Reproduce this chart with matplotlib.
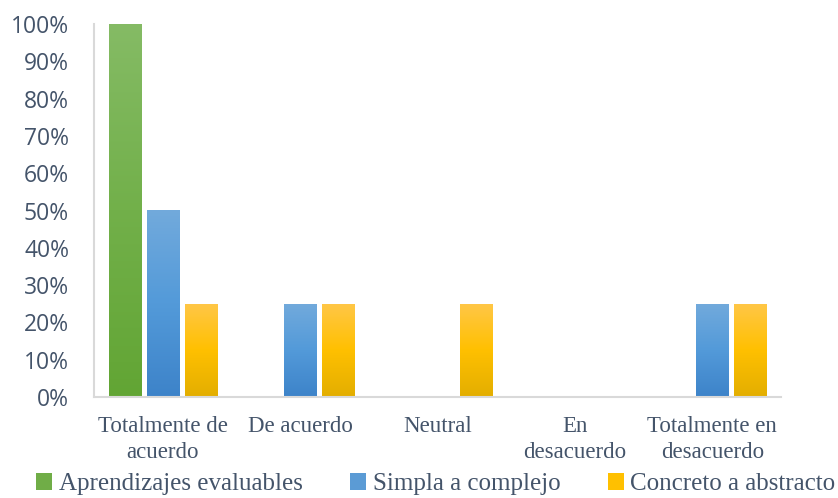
import matplotlib
matplotlib.use("Agg")
import matplotlib.pyplot as plt
import numpy as np
from matplotlib.colors import LinearSegmentedColormap
from matplotlib.patches import Patch

categories = ["Totalmente de\nacuerdo", "De acuerdo", "Neutral", "En\ndesacuerdo", "Totalmente en\ndesacuerdo"]
series_names = ["Aprendizajes evaluables", "Simpla a complejo", "Concreto a abstracto"]
aprendizajes = [1.00, 0.0, 0.0, 0.0, 0.0]
simpla = [0.50, 0.25, 0.0, 0.0, 0.25]
concreto = [0.25, 0.25, 0.25, 0.0, 0.25]
yticks = [0, 0.1, 0.2, 0.3, 0.4, 0.5, 0.6, 0.7, 0.8, 0.9, 1.0]
ytick_labels = ["0%", "10%", "20%", "30%", "40%", "50%", "60%", "70%", "80%", "90%", "100%"]

gradients = [
    ["#62A534", "#72B04A", "#85BB65"],   # bottom -> top
    ["#3D83C9", "#539AD9", "#72AADC"],
    ["#E3AE00", "#FFC000", "#FFC748"],
]
solid = ["#70AD47", "#5B9BD5", "#FFC000"]

fig = plt.figure(figsize=(8.38, 4.98), dpi=100)
ax = fig.add_axes([94/838, 101/498, 687/838, 373/498])

x = np.arange(len(categories))
w = 0.233
step = 0.277
data = [aprendizajes, simpla, concreto]
for i, vals in enumerate(data):
    cmap = LinearSegmentedColormap.from_list(f"g{i}", gradients[i])
    bars = ax.bar(x + (i - 1) * step, vals, width=w, color="none", edgecolor="none")
    for b in bars:
        h = b.get_height()
        if h <= 0:
            continue
        x0 = b.get_x()
        grad = np.linspace(0, 1, 256).reshape(-1, 1)
        im = ax.imshow(grad, extent=[x0, x0 + b.get_width(), 0, h], origin="lower",
                       aspect="auto", cmap=cmap, zorder=2)
        im.set_clip_path(b)

ax.set_xlim(-0.5, len(categories) - 0.5)
ax.set_ylim(0, 1.0)
ax.set_yticks(yticks)
ax.set_yticklabels(ytick_labels, fontfamily="Open Sans", fontsize=16.5, color="#44546A")
ax.set_xticks(x)
ax.set_xticklabels(categories, fontfamily="Liberation Serif", fontsize=16.5, color="#44546A",
                   linespacing=1.3)
ax.tick_params(axis="both", length=0)
ax.tick_params(axis="y", pad=18)
ax.tick_params(axis="x", pad=14)
for s in ["top", "right"]:
    ax.spines[s].set_visible(False)
ax.spines["left"].set_color("#D9D9D9")
ax.spines["left"].set_linewidth(1.5)
ax.spines["bottom"].set_color("#D9D9D9")
ax.spines["bottom"].set_linewidth(1.5)

handles = [Patch(facecolor=c, edgecolor="none") for c in solid]
fig.legend(handles, series_names, loc="lower center", bbox_to_anchor=(0.52, -0.04), ncol=3,
           frameon=False, prop={"family": "Liberation Serif", "size": 18},
           handlelength=0.65, handleheight=0.65, handletextpad=0.25, columnspacing=1.9,
           labelcolor="#44546A")

fig.savefig("out.png", dpi=100)
